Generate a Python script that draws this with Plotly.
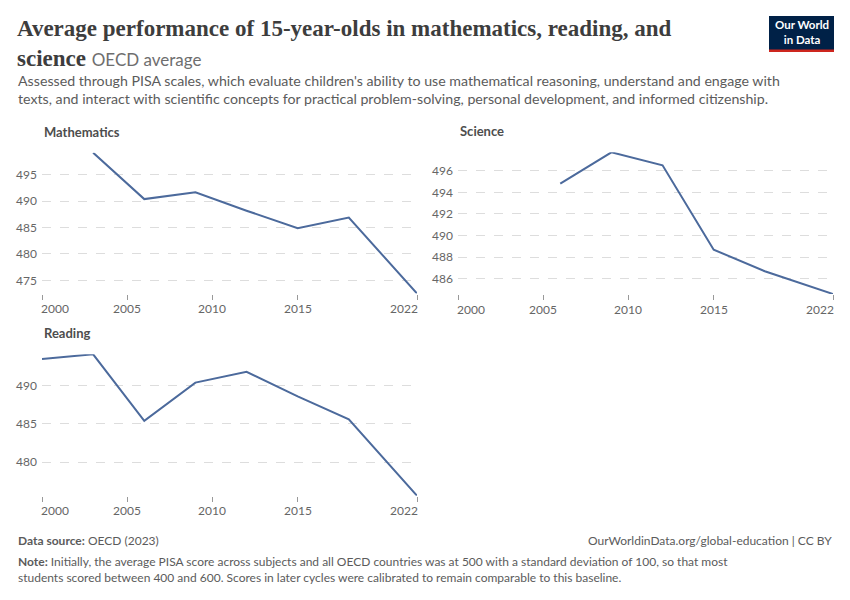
import plotly.graph_objects as go

W, H = 850, 600
PAGE_OFFSET = 8  # the browser page adds 8px of body margin

years_math = [2003, 2006, 2009, 2012, 2015, 2018, 2022]
math_scores = [499.2, 490.4, 491.7, 488.2, 484.9, 486.9, 472.5]

years_science = [2006, 2009, 2012, 2015, 2018, 2022]
science_scores = [494.8, 497.7, 496.5, 488.7, 486.7, 484.6]

years_reading = [2000, 2003, 2006, 2009, 2012, 2015, 2018, 2022]
reading_scores = [493.5, 494.1, 485.4, 490.4, 491.8, 488.6, 485.6, 475.6]

x_ticks = [2000, 2005, 2010, 2015, 2022]
math_ticks = [475, 480, 485, 490, 495]
science_ticks = [486, 488, 490, 492, 494, 496]
reading_ticks = [480, 485, 490]

LINE = "#4c6a9c"
GREY = "#5b5b5b"
TICK = "#666666"


def px_x(v):
    return (v - PAGE_OFFSET) / W


def px_y(v):
    return 1 - (v - PAGE_OFFSET) / H


panels = [
    # name, years, scores, y ticks, x pixel span, y pixel span
    ("Mathematics", years_math, math_scores, math_ticks, (42, 417), (152.7, 293.5)),
    ("Science", years_science, science_scores, science_ticks, (458, 833), (152.3, 294)),
    ("Reading", years_reading, reading_scores, reading_ticks, (42, 417), (354.3, 495.7)),
]

fig = go.Figure()
annotations = []

for i, (name, xs, ys, yt, (x0, x1), (y0, y1)) in enumerate(panels, start=1):
    sfx = "" if i == 1 else str(i)
    fig.add_trace(go.Scatter(
        x=xs, y=ys, mode="lines",
        line=dict(color=LINE, width=2),
        xaxis=f"x{sfx}", yaxis=f"y{sfx}",
        showlegend=False,
        hovertemplate="%{x}: %{y:.1f}<extra></extra>",
    ))
    fig.layout[f"xaxis{sfx}"] = dict(
        domain=[px_x(x0), px_x(x1)], anchor=f"y{sfx}",
        range=[2000, 2022], tickvals=x_ticks, showticklabels=False,
        showgrid=False, zeroline=False, showline=False,
        ticks="outside", ticklen=5, tickcolor="#999999",
        automargin=False, fixedrange=True,
    )
    fig.layout[f"yaxis{sfx}"] = dict(
        domain=[px_y(y1), px_y(y0)], anchor=f"x{sfx}",
        range=[min(ys), max(ys)], tickvals=yt,
        showgrid=True, gridcolor="#dddddd", griddash="dash", gridwidth=1,
        zeroline=False, showline=False, ticks="",
        tickfont=dict(family="Lato", size=12, color=TICK),
        ticklabelstandoff=4,
        automargin=False, fixedrange=True,
    )
    annotations.append(dict(
        text=f"<b>{name}</b>", x=px_x(x0), y=px_y(y0 - 21),
        xref="paper", yref="paper", xanchor="left", yanchor="middle",
        showarrow=False, font=dict(family="Lato", size=13, color="#4d4d4d"),
    ))
    # year labels: first one left-aligned, last one right-aligned (OWID style)
    for j, yr in enumerate(x_ticks):
        if j == 0:
            anchor, shift = "left", -3
        elif j == len(x_ticks) - 1:
            anchor, shift = "right", 3
        else:
            anchor, shift = "center", 0
        annotations.append(dict(
            text=str(yr), x=yr, xref=f"x{sfx}", xshift=shift,
            y=px_y(y1 + 15), yref="paper",
            xanchor=anchor, yanchor="middle", showarrow=False,
            font=dict(family="Lato", size=12, color=TICK),
        ))

annotations += [
    dict(
        text=("<b>Average performance of 15-year-olds in mathematics, reading, and<br>"
              "science</b> <span style='font-family:Lato;font-size:17px;color:#6e6e6e'>"
              "OECD average</span>"),
        x=px_x(15), y=px_y(14), xref="paper", yref="paper",
        xanchor="left", yanchor="top", align="left", showarrow=False,
        font=dict(family="Liberation Serif", size=23, color="#3d3d3d"),
    ),
    dict(
        text=("Assessed through PISA scales, which evaluate children's ability to use mathematical "
              "reasoning, understand and engage with<br>texts, and interact with scientific concepts "
              "for practical problem-solving, personal development, and informed citizenship."),
        x=px_x(16), y=px_y(70), xref="paper", yref="paper",
        xanchor="left", yanchor="top", align="left", showarrow=False,
        font=dict(family="Lato", size=14.2, color=GREY),
    ),
    dict(
        text="<b>Data source:</b> OECD (2023)",
        x=px_x(16), y=px_y(540), xref="paper", yref="paper",
        xanchor="left", yanchor="middle", showarrow=False,
        font=dict(family="Lato", size=12, color=GREY),
    ),
    dict(
        text="OurWorldinData.org/global-education | CC BY",
        x=px_x(834), y=px_y(540), xref="paper", yref="paper",
        xanchor="right", yanchor="middle", showarrow=False,
        font=dict(family="Lato", size=12, color=GREY),
    ),
    dict(
        text=("<b>Note:</b> Initially, the average PISA score across subjects and all OECD countries "
              "was at 500 with a standard deviation of 100, so that most<br>students scored between "
              "400 and 600. Scores in later cycles were calibrated to remain comparable to this baseline."),
        x=px_x(16), y=px_y(552), xref="paper", yref="paper",
        xanchor="left", yanchor="top", align="left", showarrow=False,
        font=dict(family="Lato", size=12, color=GREY),
    ),
    dict(
        text="<b>Our World<br>in Data</b>",
        x=px_x(801.5), y=px_y(32.5), xref="paper", yref="paper",
        xanchor="center", yanchor="middle", showarrow=False,
        font=dict(family="Lato", size=11.5, color="white"),
    ),
]

shapes = [
    dict(type="rect", xref="paper", yref="paper",
         x0=px_x(769), x1=px_x(834), y0=px_y(52), y1=px_y(16),
         fillcolor="#002147", line=dict(width=0), layer="below"),
    dict(type="rect", xref="paper", yref="paper",
         x0=px_x(769), x1=px_x(834), y0=px_y(52), y1=px_y(49.5),
         fillcolor="#ce261e", line=dict(width=0)),
]

fig.update_layout(
    width=W, height=H,
    margin=dict(l=0, r=0, t=0, b=0),
    paper_bgcolor="white", plot_bgcolor="white",
    annotations=annotations, shapes=shapes,
    hovermode="closest",
)

fig.write_html("out.html")
